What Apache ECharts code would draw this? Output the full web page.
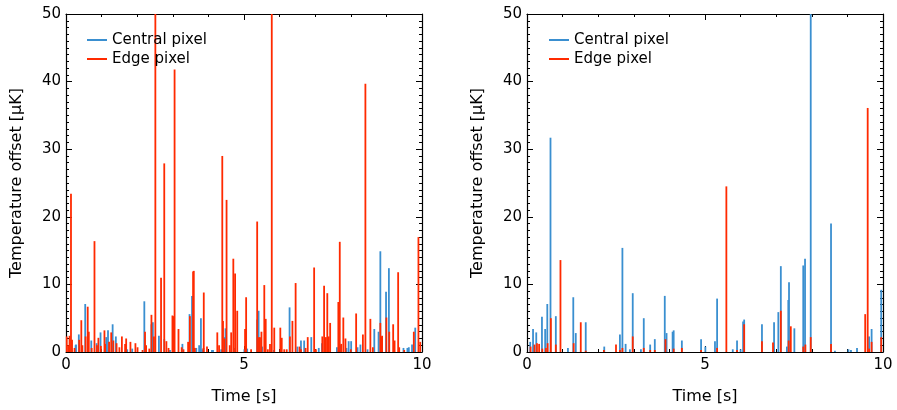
<!DOCTYPE html>
<html><head><meta charset="utf-8">
<script src="https://cdn.jsdelivr.net/npm/echarts@6/dist/echarts.min.js"></script>
<style>html,body{margin:0;padding:0;background:#fff}#c{width:897px;height:410px}</style>
</head><body><div id="c"></div>
<script>
// ---- Data (time in s, temperature offset in μK) ----
const leftCentralT = [0.27,0.28,0.36,0.54,0.71,0.86,0.97,1.13,1.18,1.31,1.40,1.72,1.86,2.20,2.40,2.44,2.61,2.76,2.92,3.27,3.47,3.54,3.66,3.74,3.79,3.83,4.10,4.13,4.36,4.46,4.48,4.73,5.01,5.09,5.37,5.41,5.51,5.84,6.28,6.50,6.60,6.69,6.89,7.10,7.19,7.61,7.72,7.88,7.94,8.01,8.19,8.27,8.47,8.66,8.78,8.83,8.99,9.07,9.48,9.59,9.63,9.72,9.81];
const leftCentralV = [1.0,1.1,2.6,7.1,1.7,1.3,2.9,2.2,3.2,4.1,2.3,0.4,0.5,7.5,4.1,4.4,2.4,1.9,0.3,1.2,5.6,8.3,0.6,1.0,5.0,0.4,0.3,0.3,0.4,2.2,3.5,0.6,0.4,0.5,4.8,6.1,0.8,0.3,6.6,0.8,1.7,1.7,2.2,0.6,1.3,0.7,1.0,0.6,1.6,1.6,0.7,1.1,0.4,3.4,3.0,14.9,8.9,12.4,0.6,0.6,0.7,1.1,3.6];
const leftEdgeT = [0.02,0.06,0.10,0.14,0.17,0.24,0.37,0.43,0.46,0.55,0.61,0.64,0.72,0.80,0.87,0.91,0.98,1.08,1.10,1.21,1.27,1.33,1.42,1.50,1.57,1.66,1.69,1.81,1.95,2.01,2.15,2.22,2.25,2.34,2.40,2.47,2.51,2.67,2.76,2.82,2.88,2.99,3.03,3.05,3.16,3.25,3.30,3.43,3.48,3.57,3.59,3.62,3.86,3.87,3.96,4.25,4.30,4.39,4.41,4.45,4.51,4.60,4.64,4.70,4.75,4.81,5.03,5.06,5.20,5.37,5.42,5.45,5.49,5.57,5.61,5.67,5.73,5.78,5.85,6.02,6.06,6.13,6.20,6.29,6.36,6.45,6.56,6.60,6.73,6.79,6.97,7.02,7.20,7.25,7.30,7.34,7.38,7.42,7.65,7.69,7.73,7.79,7.85,8.00,8.15,8.34,8.41,8.55,8.62,8.83,8.85,8.88,9.00,9.08,9.19,9.23,9.33,9.36,9.50,9.77,9.90,9.95];
const leftEdgeV = [2.3,1.0,2.4,23.4,1.8,0.6,1.8,4.7,1.0,2.3,6.7,3.0,0.6,16.4,1.0,2.1,0.9,3.2,1.2,1.5,2.9,1.7,1.3,0.7,2.3,1.2,2.0,1.5,1.3,0.7,0.3,3.0,1.0,0.5,5.5,2.3,50,11.0,27.9,1.6,0.6,5.4,5.3,41.8,3.4,0.7,0.4,1.5,5.3,11.9,12.0,0.6,0.6,8.8,0.8,2.9,1.0,29.0,4.6,2.0,22.5,1.0,2.9,13.8,11.6,6.1,3.4,8.1,0.4,19.3,2.2,2.2,3.0,9.9,4.9,0.4,1.2,50,3.6,3.6,2.1,0.4,0.4,2.3,4.6,10.2,0.8,0.4,0.6,2.2,12.5,0.4,2.3,9.8,2.2,8.7,2.3,4.3,7.4,16.3,1.2,5.1,2.0,0.4,5.7,2.6,39.7,4.9,0.7,4.3,2.3,2.4,5.1,3.0,4.1,1.7,11.8,0.7,0.3,3.0,17.0,1.5];
const rightCentralT = [0.09,0.17,0.26,0.42,0.51,0.57,0.66,0.81,1.15,1.30,1.37,1.65,2.17,2.61,2.68,2.77,2.89,2.97,3.20,3.28,3.46,3.59,3.87,3.92,4.09,4.12,4.35,4.89,5.01,5.28,5.34,5.78,5.90,6.00,6.07,6.10,6.60,6.94,7.06,7.13,7.30,7.34,7.36,7.51,7.76,7.81,7.97,8.54,8.65,9.03,9.10,9.27,9.61,9.68,9.95];
const rightCentralV = [1.5,3.4,2.9,5.2,3.4,7.1,31.7,5.3,0.6,8.1,2.8,4.4,0.8,2.6,15.4,1.2,0.4,8.7,0.4,5.0,1.1,1.9,8.3,2.8,3.0,3.2,1.7,1.9,0.8,1.6,7.9,0.4,1.7,0.4,4.5,4.8,4.1,4.4,5.9,12.7,0.8,7.7,10.3,3.5,12.8,13.8,50,19.0,0.2,0.4,0.3,0.6,2.3,3.4,9.2];
const rightEdgeT = [0.10,0.21,0.28,0.34,0.43,0.53,0.58,0.67,0.81,0.94,1.31,1.51,1.65,2.16,2.50,2.61,2.68,2.97,3.28,3.46,3.59,3.89,4.12,4.35,4.89,5.34,5.60,5.90,6.10,6.60,6.91,7.13,7.35,7.41,7.76,7.82,7.97,8.54,9.50,9.57,9.61,9.68,9.95];
const rightEdgeV = [0.8,1.1,1.3,1.2,0.5,0.6,1.3,5.0,1.1,13.6,1.3,4.4,0.2,0.3,1.1,0.3,0.6,2.3,0.6,0.3,0.3,1.9,0.5,0.6,0.3,0.6,24.5,0.3,4.1,1.6,1.4,6.1,1.7,3.8,0.8,1.1,2.2,1.2,5.6,36.1,0.5,1.5,2.2];
const xTicks = [0, 5, 10];
const yTicks = [0, 10, 20, 30, 40, 50];
const seriesNames = ['Central pixel', 'Edge pixel'];

const BLUE = '#3a8fd0', RED = '#ff2a00';
const FONT = 'DejaVu Sans';
const zip = (t, v) => t.map((x, i) => [x, v[i]]);

function xAx(grid, bottom) {
  return {
    type: 'value', gridIndex: grid, position: bottom ? 'bottom' : 'top',
    min: xTicks[0], max: xTicks[xTicks.length - 1], interval: 5,
    name: bottom ? 'Time [s]' : '', nameLocation: 'middle', nameGap: 37,
    nameTextStyle: { fontFamily: FONT, fontSize: 16, color: '#000' },
    axisLine: { show: true, onZero: false, lineStyle: { color: '#000', width: 1.2 } },
    axisTick: { show: true, inside: true, length: 6, lineStyle: { color: '#000' } },
    minorTick: { show: true, splitNumber: 5, length: 3, lineStyle: { color: '#000' } },
    axisLabel: { show: bottom, fontFamily: FONT, fontSize: 15, color: '#000', margin: 6 },
    splitLine: { show: false }
  };
}
function yAx(grid, left) {
  return {
    type: 'value', gridIndex: grid, position: left ? 'left' : 'right',
    min: yTicks[0], max: yTicks[yTicks.length - 1], interval: 10,
    name: left ? 'Temperature offset [μK]' : '', nameLocation: 'middle', nameGap: 41,
    nameTextStyle: { fontFamily: FONT, fontSize: 16, color: '#000' },
    axisLine: { show: true, onZero: false, lineStyle: { color: '#000', width: 1.2 } },
    axisTick: { show: true, inside: true, length: 6, lineStyle: { color: '#000' } },
    minorTick: { show: true, splitNumber: 10, length: 3, lineStyle: { color: '#000' } },
    axisLabel: { show: left, fontFamily: FONT, fontSize: 15, color: '#000', margin: 5 },
    splitLine: { show: false }
  };
}
function bars(name, data, xi, yi, color) {
  return {
    type: 'bar', name, data, xAxisIndex: xi, yAxisIndex: yi,
    barWidth: 1.8, barGap: '-100%', itemStyle: { color }, clip: true,
    emphasis: { disabled: true }
  };
}
function legend(left) {
  return {
    left, top: 32, padding: 0, orient: 'vertical', itemGap: 3, itemWidth: 20, itemHeight: 2,
    icon: 'rect', data: seriesNames, selectedMode: false,
    textStyle: { fontFamily: FONT, fontSize: 15, color: '#000', lineHeight: 16 }
  };
}
const chart = echarts.init(document.getElementById('c'), null, { renderer: 'canvas' });
chart.setOption({
  animation: false,
  color: [BLUE, RED],
  grid: [
    { left: 66, top: 14, width: 356, height: 340 },
    { left: 527, top: 14, width: 356, height: 340 }
  ],
  legend: [legend(87), legend(549)],
  xAxis: [xAx(0, true), xAx(0, false), xAx(1, true), xAx(1, false)],
  yAxis: [yAx(0, true), yAx(0, false), yAx(1, true), yAx(1, false)],
  series: [
    bars(seriesNames[0], zip(leftCentralT, leftCentralV), 0, 0, BLUE),
    bars(seriesNames[1], zip(leftEdgeT, leftEdgeV), 0, 0, RED),
    bars(seriesNames[0], zip(rightCentralT, rightCentralV), 2, 2, BLUE),
    bars(seriesNames[1], zip(rightEdgeT, rightEdgeV), 2, 2, RED)
  ]
});
</script></body></html>
